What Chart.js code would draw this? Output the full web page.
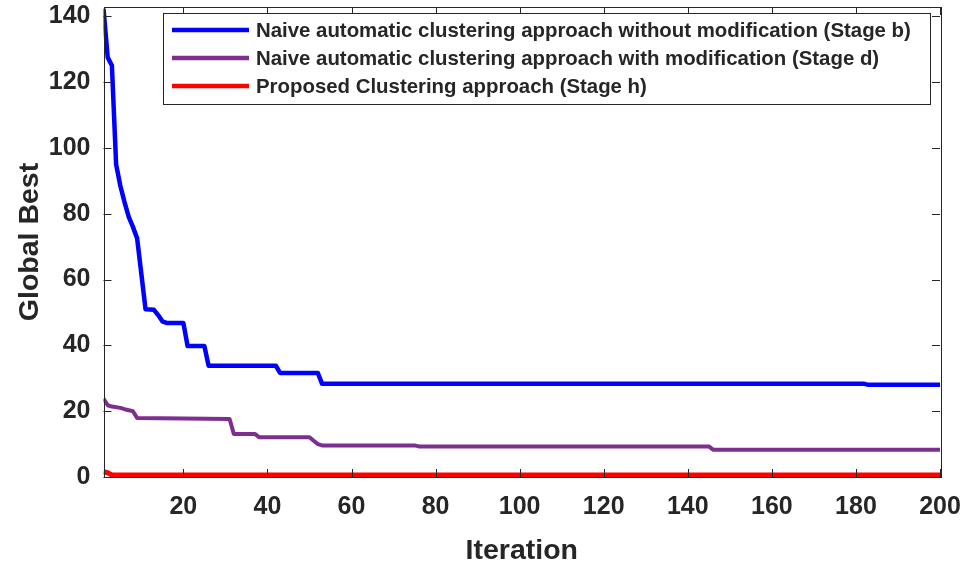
<!DOCTYPE html>
<html>
<head>
<meta charset="utf-8">
<script src="https://cdn.jsdelivr.net/npm/chart.js@4/dist/chart.umd.min.js"></script>
<style>
  html, body { margin: 0; padding: 0; background: #ffffff; }
  #wrap { width: 963px; height: 569px; position: relative; }
</style>
</head>
<body>
<div id="wrap"><canvas id="c" width="963" height="569"></canvas></div>
<script>
// Convergence of the best fitness value over the iterations (breakpoints of each curve)
const seriesLabels = [
  'Naive automatic clustering approach without modification (Stage b)',
  'Naive automatic clustering approach with modification (Stage d)',
  'Proposed Clustering approach (Stage h)'
];
const seriesColors = ['#0000FF', '#7E2F8E', '#FF0000'];

const stageBIter = [1, 2, 3, 4, 5, 6, 7, 8, 9, 11, 13, 14, 15, 16, 20, 21, 25, 26, 42, 43, 52, 53, 182, 183, 200];
const stageBVal  = [142.3, 127.5, 125.0, 95.0, 88.5, 83.5, 79.0, 76.0, 72.5, 51.0, 50.8, 49.2, 47.3, 46.8, 46.8, 39.8, 39.8, 33.8, 33.8, 31.6, 31.6, 28.3, 28.3, 28.0, 28.0];

const stageDIter = [1, 2, 3, 5, 6, 7, 8, 9, 20, 31, 32, 37, 38, 50, 51, 52, 53, 75, 76, 145, 146, 200];
const stageDVal  = [23.8, 21.8, 21.4, 21.0, 20.6, 20.3, 20.0, 17.9, 17.8, 17.6, 13.1, 13.1, 12.1, 12.1, 11.0, 10.0, 9.6, 9.6, 9.3, 9.3, 8.3, 8.3];

const stageHIter = [1, 2, 3, 200];
const stageHVal  = [1.6, 1.3, 0.6, 0.6];

const xTickValues = [20, 40, 60, 80, 100, 120, 140, 160, 180, 200];
const yTickValues = [0, 20, 40, 60, 80, 100, 120, 140];

const xTitle = 'Iteration';
const yTitle = 'Global Best';

const INK = '#262626';
const FONT = '"Liberation Sans", Arial, Helvetica, sans-serif';

function pairs(xs, ys) { return xs.map((x, i) => ({ x: x, y: ys[i] })); }

// Axes box, inward tick marks on all four sides, axis titles
const frame = {
  id: 'frame',
  afterDatasetsDraw(chart) {
    const { ctx, chartArea: a, scales } = chart;
    const tl = 8;
    ctx.save();
    ctx.strokeStyle = INK;
    ctx.lineWidth = 1;
    ctx.beginPath();
    xTickValues.forEach(v => {
      const px = Math.round(scales.x.getPixelForValue(v)) + 0.5;
      ctx.moveTo(px, a.bottom); ctx.lineTo(px, a.bottom - tl);
      ctx.moveTo(px, a.top); ctx.lineTo(px, a.top + tl);
    });
    yTickValues.forEach(v => {
      const py = Math.round(scales.y.getPixelForValue(v)) + 0.5;
      ctx.moveTo(a.left, py); ctx.lineTo(a.left + tl, py);
      ctx.moveTo(a.right, py); ctx.lineTo(a.right - tl, py);
    });
    ctx.stroke();
    ctx.strokeRect(Math.round(a.left) + 0.5, Math.round(a.top) + 0.5,
                   Math.round(a.right - a.left), Math.round(a.bottom - a.top));

    ctx.fillStyle = INK;
    ctx.font = 'bold 28.5px ' + FONT;
    ctx.textAlign = 'center';
    ctx.textBaseline = 'middle';
    ctx.fillText(xTitle, (a.left + a.right) / 2, 551);
    ctx.translate(30, (a.top + a.bottom) / 2);
    ctx.rotate(-Math.PI / 2);
    ctx.fillText(yTitle, 0, 0);
    ctx.restore();
  },
  afterDraw(chart) {
    // legend box in the upper part of the axes
    const { ctx } = chart;
    const bx = 163.5, by = 13.5, bw = 767, bh = 91;
    ctx.save();
    ctx.fillStyle = '#ffffff';
    ctx.fillRect(bx, by, bw, bh);
    ctx.strokeStyle = INK;
    ctx.lineWidth = 1;
    ctx.strokeRect(bx, by, bw, bh);
    ctx.font = 'bold 20.4px ' + FONT;
    ctx.textAlign = 'left';
    ctx.textBaseline = 'middle';
    chart.data.datasets.forEach((ds, i) => {
      const y = 30 + i * 28;
      ctx.strokeStyle = ds.borderColor;
      ctx.lineWidth = 4.5;
      ctx.beginPath();
      ctx.moveTo(172, y); ctx.lineTo(249, y);
      ctx.stroke();
      ctx.fillStyle = INK;
      ctx.fillText(ds.label, 256, y + 1);
    });
    ctx.restore();
  }
};

new Chart(document.getElementById('c'), {
  type: 'line',
  data: {
    datasets: [
      { label: seriesLabels[0], data: pairs(stageBIter, stageBVal), borderColor: seriesColors[0], borderWidth: 4.5 },
      { label: seriesLabels[1], data: pairs(stageDIter, stageDVal), borderColor: seriesColors[1], borderWidth: 4 },
      { label: seriesLabels[2], data: pairs(stageHIter, stageHVal), borderColor: seriesColors[2], borderWidth: 5 }
    ]
  },
  options: {
    responsive: false,
    animation: false,
    devicePixelRatio: 1,
    layout: { padding: { top: 7, right: 23, left: 0, bottom: 0 } },
    elements: {
      line: { tension: 0, borderJoinStyle: 'round', borderCapStyle: 'butt', fill: false },
      point: { radius: 0, hoverRadius: 0 }
    },
    plugins: { legend: { display: false }, tooltip: { enabled: false } },
    scales: {
      x: {
        type: 'linear',
        min: 1, max: 200,
        grid: { display: false, drawTicks: false },
        border: { display: false },
        afterBuildTicks: s => { s.ticks = xTickValues.map(v => ({ value: v })); },
        afterFit: s => { s.height = 92; s.paddingLeft = 0; s.paddingRight = 0; },
        ticks: {
          padding: 15,
          color: INK,
          maxRotation: 0,
          autoSkip: false,
          font: { family: FONT, size: 25, weight: 'bold' }
        }
      },
      y: {
        type: 'linear',
        min: 0, max: 142.8,
        grid: { display: false, drawTicks: false },
        border: { display: false },
        afterBuildTicks: s => { s.ticks = yTickValues.map(v => ({ value: v })); },
        afterFit: s => { s.width = 103.5; s.paddingTop = 0; s.paddingBottom = 0; },
        ticks: {
          padding: 13,
          color: INK,
          autoSkip: false,
          font: { family: FONT, size: 25, weight: 'bold' }
        }
      }
    }
  },
  plugins: [frame]
});
</script>
</body>
</html>
